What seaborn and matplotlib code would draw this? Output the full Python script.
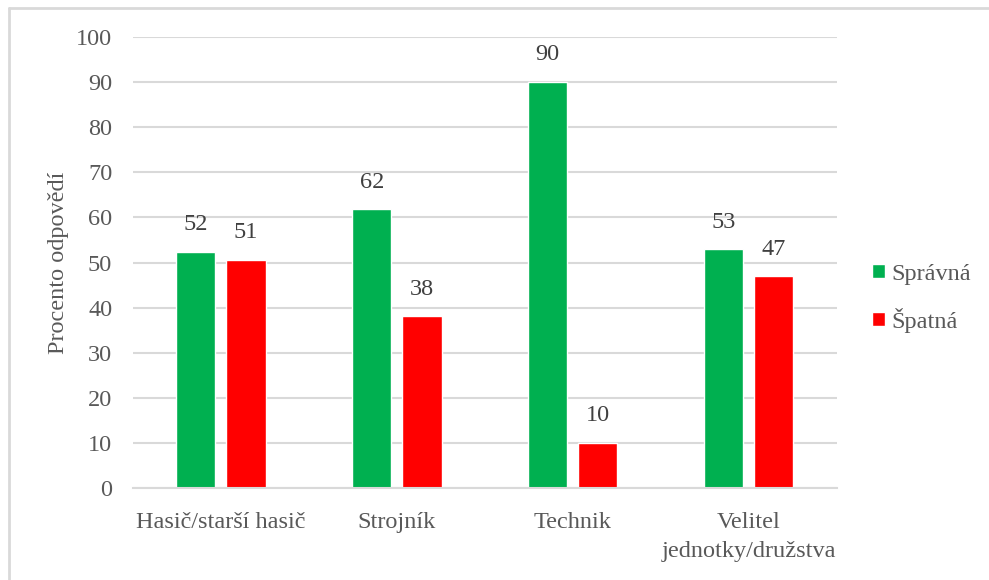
import matplotlib
matplotlib.use("Agg")
import matplotlib.pyplot as plt
import seaborn as sns
import pandas as pd
from matplotlib.patches import Patch
from matplotlib.lines import Line2D

categories = ["Hasič/starší hasič", "Strojník", "Technik", "Velitel\njednotky/družstva"]
spravna = [52.3, 61.8, 90.0, 52.9]
spatna = [50.6, 38.1, 10.0, 46.9]
series = ["Správná", "Špatná"]
colors = ["#00B050", "#FF0000"]

df = pd.DataFrame({
    "kategorie": categories * 2,
    "hodnota": spravna + spatna,
    "serie": [series[0]] * len(categories) + [series[1]] * len(categories),
})

sns.set_theme(style="white")
plt.rcParams["font.family"] = ["Liberation Serif", "DejaVu Serif"]
txt = "#595959"

fig = plt.figure(figsize=(9.89, 5.8), dpi=100)
ax = fig.add_axes([0.1345, 0.1586, 0.7115, 0.7776])

sns.barplot(data=df, x="kategorie", y="hodnota", hue="serie", palette=colors,
            width=0.57, gap=0.22, ax=ax, legend=False, saturation=1)

for c in ax.containers:
    ax.bar_label(c, fmt="%.0f", padding=12, fontsize=17.5, color="#404040")

ax.set_ylim(0, 100)
ax.set_yticks(range(0, 101, 10))
ax.yaxis.grid(True, color="#d9d9d9", linewidth=1.5)
ax.set_axisbelow(True)
for s in ["top", "right", "left"]:
    ax.spines[s].set_visible(False)
ax.spines["bottom"].set_color("#d9d9d9")
ax.spines["bottom"].set_linewidth(1.5)
ax.tick_params(axis="both", length=0, labelsize=17.5, labelcolor=txt)
ax.tick_params(axis="x", pad=17)
ax.tick_params(axis="y", pad=15)
for lab in ax.get_xticklabels():
    lab.set_linespacing(1.5)
ax.set_xlabel("")
ax.set_ylabel("Procento odpovědí", fontsize=17.5, color=txt, labelpad=5)

handles = [Patch(facecolor=colors[i], label=series[i]) for i in range(2)]
fig.legend(handles=handles, loc="center left", bbox_to_anchor=(0.86, 0.486),
           frameon=False, fontsize=17.5, labelcolor=txt, handlelength=0.5,
           handleheight=0.5, handletextpad=0.3, labelspacing=0.95)

fig.add_artist(Line2D([9 / 989, 1.0], [1 - 8 / 580, 1 - 8 / 580], transform=fig.transFigure,
                      color="#d9d9d9", linewidth=2))
fig.add_artist(Line2D([9 / 989, 9 / 989], [0.0, 1 - 8 / 580], transform=fig.transFigure,
                      color="#d9d9d9", linewidth=2))

fig.savefig("out.png", dpi=100)
